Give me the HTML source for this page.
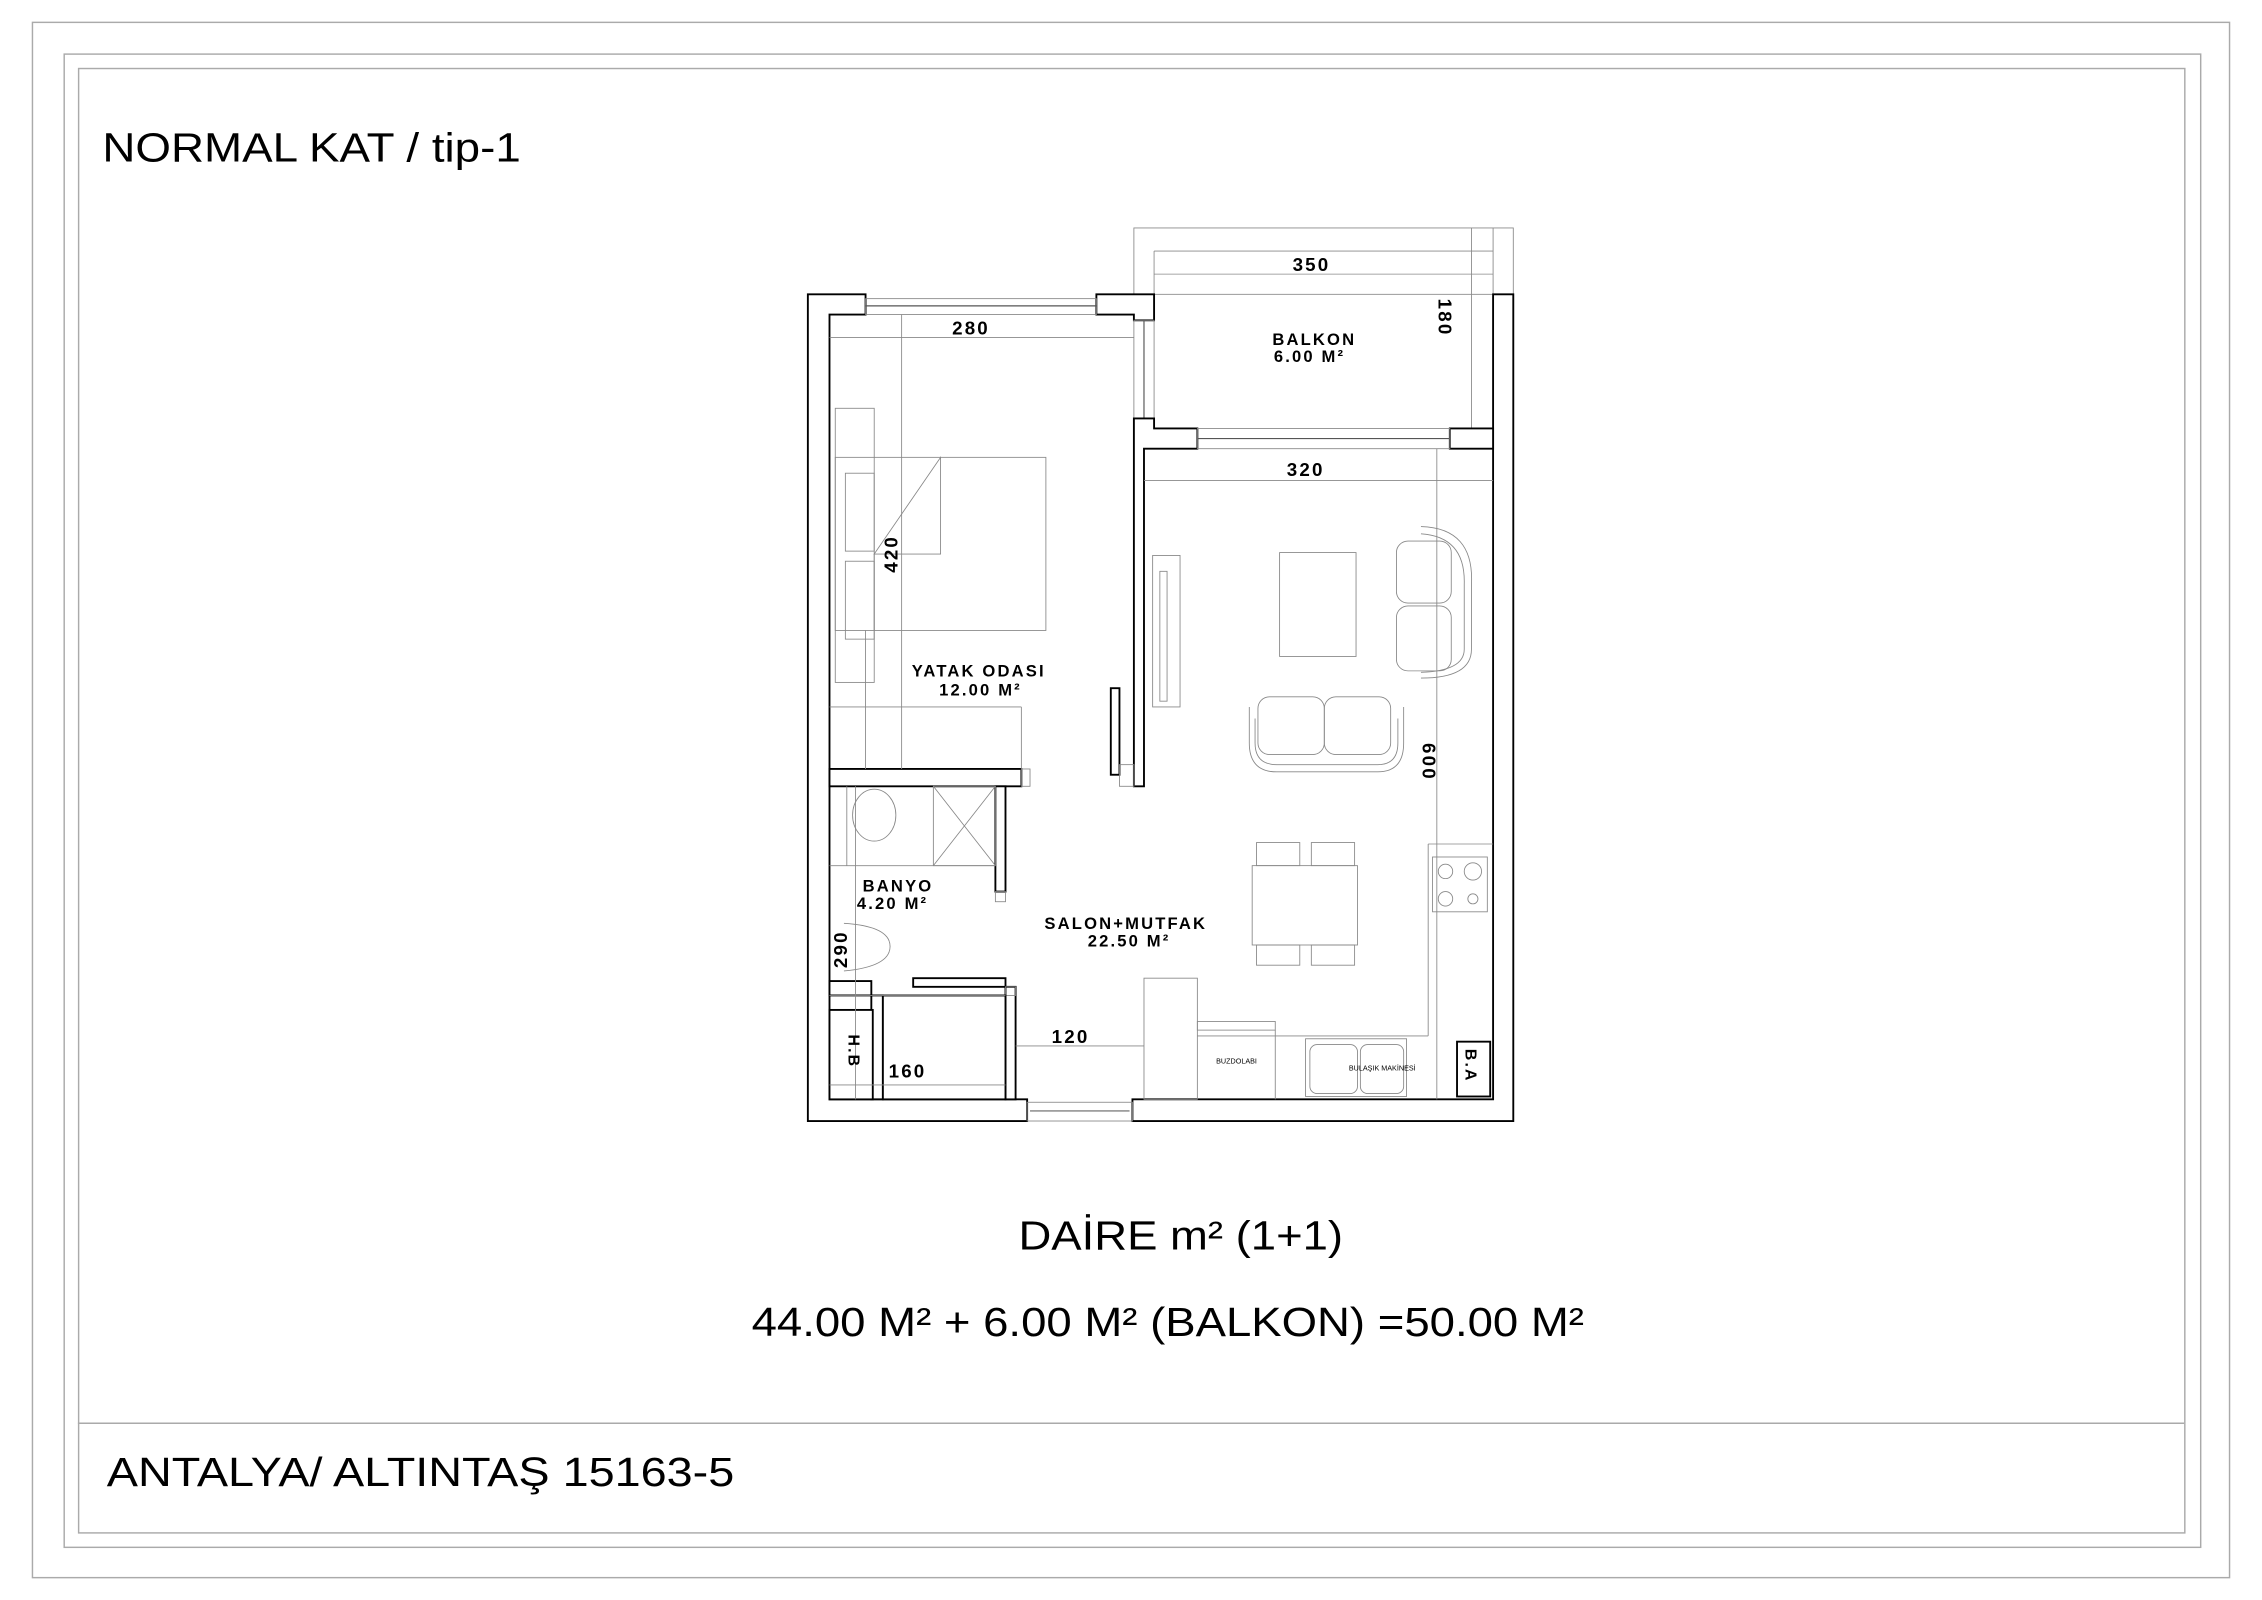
<!DOCTYPE html>
<html><head><meta charset="utf-8"><style>
html,body{margin:0;padding:0;background:#fff;}
svg{display:block}
.t{font-family:"Liberation Sans",sans-serif;fill:#000}
.r{font-family:"Liberation Sans",sans-serif;fill:#000;font-weight:bold;letter-spacing:1.5px}
.w{fill:#fff;stroke:#000;stroke-width:1.3}
.f{fill:none;stroke:#888;stroke-width:0.6}
.k{fill:none;stroke:#000;stroke-width:1.2}
</style></head><body>
<svg width="2262" height="1600" viewBox="0 0 1568 1109" preserveAspectRatio="none" xmlns="http://www.w3.org/2000/svg">
<rect x="0" y="0" width="1568" height="1109" fill="#fff"/>
<rect x="22.5" y="15.5" width="1523" height="1078" fill="none" stroke="#aaa" stroke-width="1"/>
<rect x="44.5" y="37.5" width="1481" height="1035" fill="none" stroke="#aaa" stroke-width="1"/>
<rect x="54.5" y="47.5" width="1460" height="1015" fill="none" stroke="#aaa" stroke-width="1"/>
<line x1="54" y1="986.5" x2="1514" y2="986.5" stroke="#aaa" stroke-width="1"/>

<text class="t" x="71" y="112" font-size="28" textLength="290" lengthAdjust="spacingAndGlyphs">NORMAL KAT / tip-1</text>
<text class="t" x="74" y="1030" font-size="28" textLength="435" lengthAdjust="spacingAndGlyphs">ANTALYA/ ALTINTAŞ 15163-5</text>
<text class="t" x="706" y="866" font-size="28" textLength="225" lengthAdjust="spacingAndGlyphs">DAİRE m² (1+1)</text>
<text class="t" x="521" y="926" font-size="28" textLength="577" lengthAdjust="spacingAndGlyphs">44.00 M² + 6.00 M² (BALKON) =50.00 M²</text>

<rect x="786" y="158" width="263" height="46" class="f"/>
<line x1="800" y1="174" x2="1035" y2="174" class="f"/>
<line x1="800" y1="190" x2="1035" y2="190" class="f"/>
<line x1="800" y1="174" x2="800" y2="204" class="f"/>
<line x1="1035" y1="158" x2="1035" y2="297" class="f"/>
<line x1="1020" y1="158" x2="1020" y2="297" class="f"/>

<path class="w" d="M560,204 H600 V218 H575 V762 H712 V777 H560 Z"/>
<path class="w" d="M760,204 H800 V222 H786 V218 H760 Z"/>
<path class="w" d="M1035,204 H1049 V777 H785 V762 H1035 Z"/>
<rect x="600" y="207" width="160" height="11" class="f"/>
<line x1="600" y1="212" x2="760" y2="212" stroke="#555" stroke-width="0.8"/>
<rect x="786" y="222" width="14" height="68" class="f"/>
<line x1="793" y1="222" x2="793" y2="290" stroke="#555" stroke-width="0.8"/>
<path class="w" d="M786,290 H800 V297 H830 V311 H793 V545 H786 Z"/>
<path class="w" d="M1005,297 H1035 V311 H1005 Z"/>
<rect x="830" y="297" width="175" height="14" class="f"/>
<line x1="830" y1="304" x2="1005" y2="304" stroke="#555" stroke-width="0.8"/>
<rect x="712" y="764" width="73" height="13" class="f"/>
<line x1="714" y1="770" x2="783" y2="770" stroke="#666" stroke-width="0.8"/>

<path class="w" d="M575,533 H708 V545 H575 Z"/>
<rect x="708" y="533" width="6" height="12" class="f"/>
<rect x="770" y="477" width="6" height="60" class="w"/>
<rect x="776" y="530" width="10" height="15" class="f"/>
<path class="w" d="M690,545 H697 V618 H690 Z"/>
<rect x="690" y="618" width="7" height="7" class="f"/>
<path class="w" d="M575,680 H604 V762 H612 V690 H575 Z"/>
<rect x="633" y="678" width="64" height="6" class="w"/>
<rect x="697" y="684" width="7" height="78" class="w"/>
<rect x="697" y="684" width="7" height="6" class="f"/>
<rect x="612" y="690" width="85" height="72" class="w"/>
<rect x="575" y="700" width="30" height="62" class="w"/>

<line x1="575" y1="234" x2="786" y2="234" class="f"/>
<line x1="625" y1="218" x2="625" y2="533" class="f"/>
<line x1="793" y1="333" x2="1035" y2="333" class="f"/>
<line x1="996" y1="311" x2="996" y2="762" class="f"/>
<line x1="593" y1="545" x2="593" y2="762" class="f"/>
<line x1="575" y1="690" x2="697" y2="690" class="f"/>
<line x1="575" y1="752" x2="697" y2="752" class="f"/>
<line x1="704" y1="725" x2="793" y2="725" class="f"/>

<rect x="579" y="283" width="27" height="190" class="f"/>
<rect x="579" y="317" width="146" height="120" class="f"/>
<rect x="586" y="328" width="20" height="54" class="f"/>
<rect x="586" y="389" width="20" height="54" class="f"/>
<path d="M606,384 L652,317 V384 Z" class="f"/>
<line x1="606" y1="384" x2="606" y2="437" class="f"/>
<line x1="575" y1="490" x2="708" y2="490" class="f"/>
<line x1="708" y1="490" x2="708" y2="533" class="f"/>
<line x1="600" y1="437" x2="600" y2="533" class="f"/>

<rect x="799" y="385" width="19" height="105" class="f"/>
<rect x="804" y="396" width="5" height="90" class="f"/>
<rect x="887" y="383" width="53" height="72" class="f"/>
<rect x="968" y="375" width="38" height="43" rx="8" class="f"/>
<rect x="968" y="420" width="38" height="45" rx="8" class="f"/>
<path d="M985,365 Q1022,366 1020,405 V450 Q1020,470 985,470" class="f"/>
<path d="M985,370 Q1016,372 1015,405 V450 Q1015,465 985,466" class="f"/>
<rect x="872" y="483" width="46" height="40" rx="8" class="f"/>
<rect x="918" y="483" width="46" height="40" rx="8" class="f"/>
<path d="M866,490 V515 Q866,535 885,535 H955 Q973,535 973,515 V490" class="f"/>
<path d="M870,498 V515 Q870,530 885,530 H955 Q969,530 969,515 V498" class="f"/>
<rect x="868" y="600" width="73" height="55" class="f"/>
<rect x="871" y="584" width="30" height="16" class="f"/>
<rect x="909" y="584" width="30" height="16" class="f"/>
<rect x="871" y="655" width="30" height="14" class="f"/>
<rect x="909" y="655" width="30" height="14" class="f"/>
<line x1="990" y1="585" x2="1035" y2="585" class="f"/>
<line x1="990" y1="585" x2="990" y2="718" class="f"/>
<rect x="993" y="594" width="38" height="38" class="f"/>
<circle cx="1002" cy="604" r="5" class="f"/>
<circle cx="1021" cy="604" r="6" class="f"/>
<circle cx="1002" cy="623" r="5" class="f"/>
<circle cx="1021" cy="623" r="3.5" class="f"/>
<line x1="830" y1="718" x2="990" y2="718" class="f"/>
<rect x="793" y="678" width="37" height="84" class="f"/>
<rect x="830" y="708" width="54" height="6" class="f"/>
<line x1="884" y1="714" x2="884" y2="762" class="f"/>
<rect x="905" y="720" width="70" height="40" class="f"/>
<rect x="908" y="724" width="33" height="34" rx="5" class="f"/>
<rect x="943" y="724" width="30" height="34" rx="5" class="f"/>
<rect x="1010" y="722" width="23" height="38" class="w"/>
<text class="t" x="843" y="737" font-size="5">BUZDOLABI</text>
<text class="t" x="935" y="742" font-size="5">BULAŞIK MAKİNESİ</text>
<line x1="575" y1="600" x2="690" y2="600" class="f"/>
<rect x="647" y="545" width="43" height="55" class="f"/>
<path d="M647,545 L690,600 M690,545 L647,600" class="f"/>
<ellipse cx="606" cy="565" rx="15" ry="18" class="f"/>
<line x1="587" y1="545" x2="587" y2="600" class="f"/>
<path d="M585,640 Q617,642 617,656 Q617,670 585,673" class="f"/>

<g class="r" font-size="13">
<text x="660" y="232">280</text>
<text x="896" y="188">350</text>
<text x="892" y="330">320</text>
<text x="882" y="239" font-size="11.5">BALKON</text>
<text x="883" y="251" font-size="11.5">6.00 M²</text>
<text x="632" y="469" font-size="11.5">YATAK ODASI</text>
<text x="651" y="482" font-size="11.5">12.00 M²</text>
<text x="598" y="618" font-size="11.5">BANYO</text>
<text x="594" y="630" font-size="11.5">4.20 M²</text>
<text x="724" y="644" font-size="11.5">SALON+MUTFAK</text>
<text x="754" y="656" font-size="11.5">22.50 M²</text>
<text x="729" y="723">120</text>
<text x="616" y="747">160</text>
<text transform="translate(997,207) rotate(90)">180</text>
<text transform="translate(986,515) rotate(90)">600</text>
<text transform="translate(622,397) rotate(-90)">420</text>
<text transform="translate(587,671) rotate(-90)">290</text>
<text transform="translate(588,717) rotate(90)" font-size="11">H.B</text>
<text transform="translate(1016,727) rotate(90)" font-size="11">B.A</text>
</g>
</svg>
</body></html>
